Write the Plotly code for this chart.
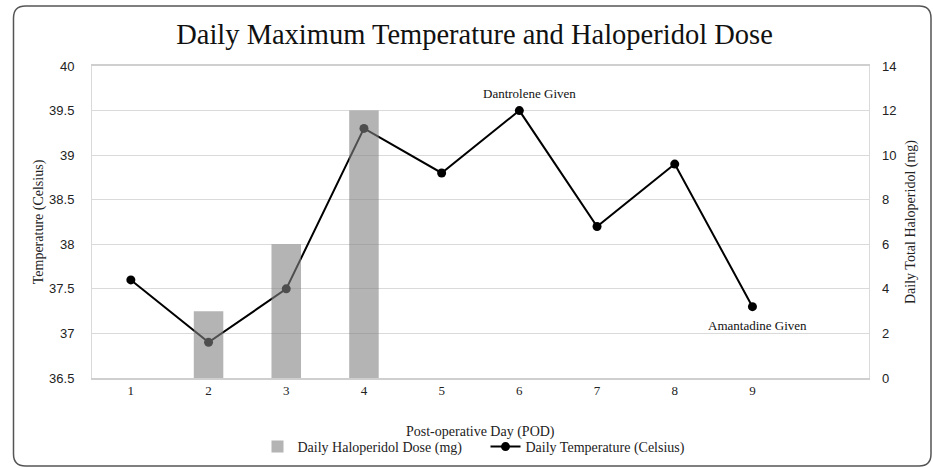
import plotly.graph_objects as go

days = [1, 2, 3, 4, 5, 6, 7, 8, 9]
tick_labels = ["1", "2", "3", "4", "5", "6", "7", "8", "9"]
temperature = [37.6, 36.9, 37.5, 39.3, 38.8, 39.5, 38.2, 38.9, 37.3]
dose_days = [2, 3, 4]
dose_mg = [3, 6, 12]

W, H = 933, 468
ML, MR, MT, MB = 92, 64, 66, 90
pw, ph = W - ML - MR, H - MT - MB

def px_x(x):
    return (x - ML) / pw

def px_y(y):
    return (H - MB - y) / ph

serif = "Liberation Serif, Times New Roman, serif"
sans = "Liberation Sans, Arial, sans-serif"

fig = go.Figure()
fig.add_trace(go.Bar(
    x=dose_days, y=dose_mg, yaxis="y2", width=0.38,
    marker=dict(color="rgba(130,130,130,0.6)", line=dict(width=0)),
    name="Daily Haloperidol Dose (mg)",
))
fig.add_trace(go.Scatter(
    x=days, y=temperature, mode="lines+markers",
    line=dict(color="black", width=2),
    marker=dict(color="black", size=9),
    name="Daily Temperature (Celsius)",
))

fig.add_annotation(x=6, y=39.5, text="Dantrolene Given", showarrow=False,
                   xshift=10, yshift=17, font=dict(family=serif, size=13, color="#111"))
fig.add_annotation(x=9, y=37.3, text="Amantadine Given", showarrow=False,
                   xshift=5, yshift=-19, font=dict(family=serif, size=13, color="#111"))

fig.add_annotation(x=0.5, y=px_y(432), xref="paper", yref="paper",
                   text="Post-operative Day (POD)", showarrow=False,
                   xanchor="center", yanchor="middle",
                   font=dict(family=serif, size=14, color="#222"))

# outer rounded frame
x0, y0, x1, y1, r = 13.5, 6, 931, 466, 12
def P(x, y):
    return f"{px_x(x):.5f},{px_y(y):.5f}"
path = (f"M {P(x0, y1 - r)} L {P(x0, y0 + r)} Q {P(x0, y0)} {P(x0 + r, y0)} "
        f"L {P(x1 - r, y0)} Q {P(x1, y0)} {P(x1, y0 + r)} L {P(x1, y1 - r)} "
        f"Q {P(x1, y1)} {P(x1 - r, y1)} L {P(x0 + r, y1)} Q {P(x0, y1)} {P(x0, y1 - r)} Z")
fig.add_shape(type="path", path=path, xref="paper", yref="paper",
              line=dict(color="#555555", width=1.5), layer="above")

fig.update_layout(
    width=W, height=H,
    margin=dict(l=ML, r=MR, t=MT, b=MB, autoexpand=False),
    paper_bgcolor="white", plot_bgcolor="white",
    title=dict(text="Daily Maximum Temperature and Haloperidol Dose",
               font=dict(family=serif, size=28.5, color="#111"),
               x=474.5 / W, xanchor="center", y=1 - 34 / H, yanchor="middle",
               automargin=False),
    xaxis=dict(range=[0.5, 10.5], tickmode="array", tickvals=days, ticktext=tick_labels,
               showgrid=False, zeroline=False, showline=True, linecolor="#cfcfcf",
               linewidth=1.5, mirror=True, ticks="", automargin=False,
               tickfont=dict(family=serif, size=13, color="#222")),
    yaxis=dict(range=[36.5, 40], dtick=0.5, showgrid=True, gridcolor="#dadada",
               gridwidth=1.2, zeroline=False, showline=True, linecolor="#dadada",
               mirror=True, ticks="", ticklabelstandoff=14, automargin=False,
               tickfont=dict(family=sans, size=13, color="#222"),
               title=dict(text="Temperature (Celsius)", standoff=2,
                          font=dict(family=serif, size=14, color="#222"))),
    yaxis2=dict(range=[0, 14], dtick=2, overlaying="y", side="right",
                showgrid=False, zeroline=False, showline=False, ticks="",
                ticklabelstandoff=12, automargin=False,
                tickfont=dict(family=sans, size=13, color="#222"),
                title=dict(text="Daily Total Haloperidol (mg)", standoff=9,
                           font=dict(family=serif, size=14, color="#222"))),
    legend=dict(orientation="h", x=0.5 + 5 / pw, xanchor="center", y=px_y(447),
                yanchor="middle",
                font=dict(family=serif, size=14, color="#222"), traceorder="normal",
                itemwidth=30, entrywidth=183, bgcolor="rgba(0,0,0,0)"),
    showlegend=True,
)

fig.write_html("out.html", config={"displayModeBar": False},
               post_script="document.body.style.margin='0';document.body.style.overflow='hidden';")
